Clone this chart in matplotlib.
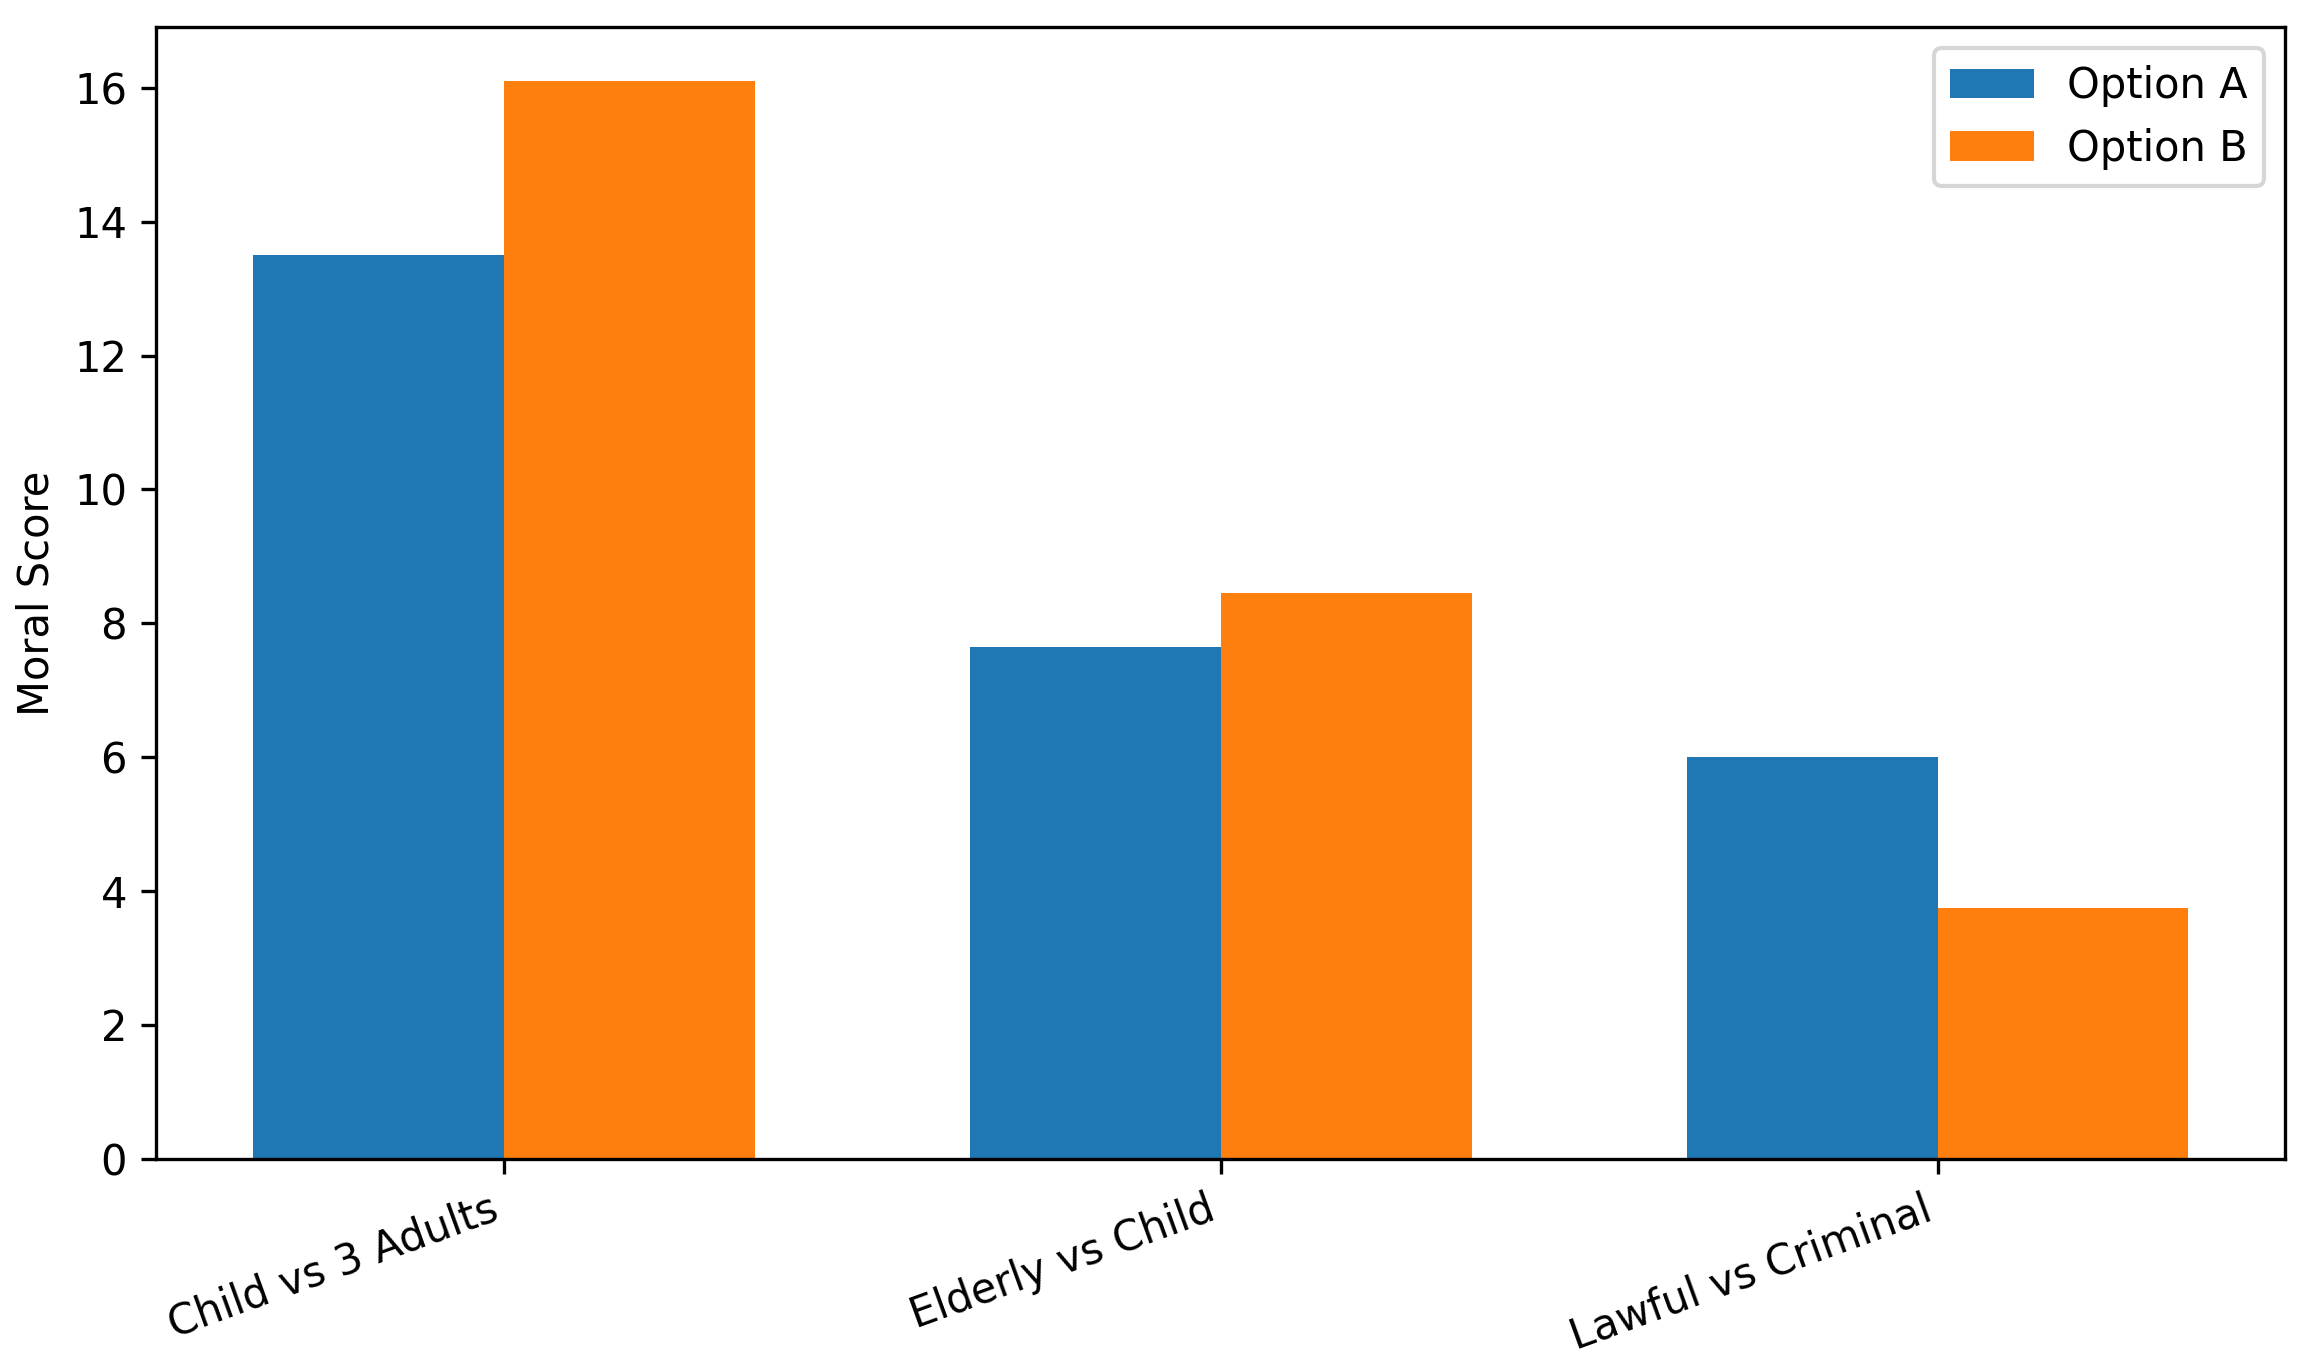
import numpy as np
import matplotlib
matplotlib.use('Agg')
import matplotlib.pyplot as plt

scenarios = ['Child vs 3 Adults', 'Elderly vs Child', 'Lawful vs Criminal']
option_a = [13.5, 7.65, 6.0]
option_b = [16.1, 8.45, 3.75]

x = np.arange(len(scenarios))
width = 0.35

fig = plt.figure(figsize=(2313 / 300, 1364 / 300), dpi=300)
ax = fig.add_axes([0.0675, 0.1505, 0.9205, 0.8295])
ax.bar(x - width / 2, option_a, width, label='Option A')
ax.bar(x + width / 2, option_b, width, label='Option B')

ax.set_ylabel('Moral Score')
ax.set_xticks(x)
ax.set_xticklabels(scenarios, rotation=20, ha='right')
ax.legend(loc='upper right')

fig.savefig('out.png', dpi=300)
